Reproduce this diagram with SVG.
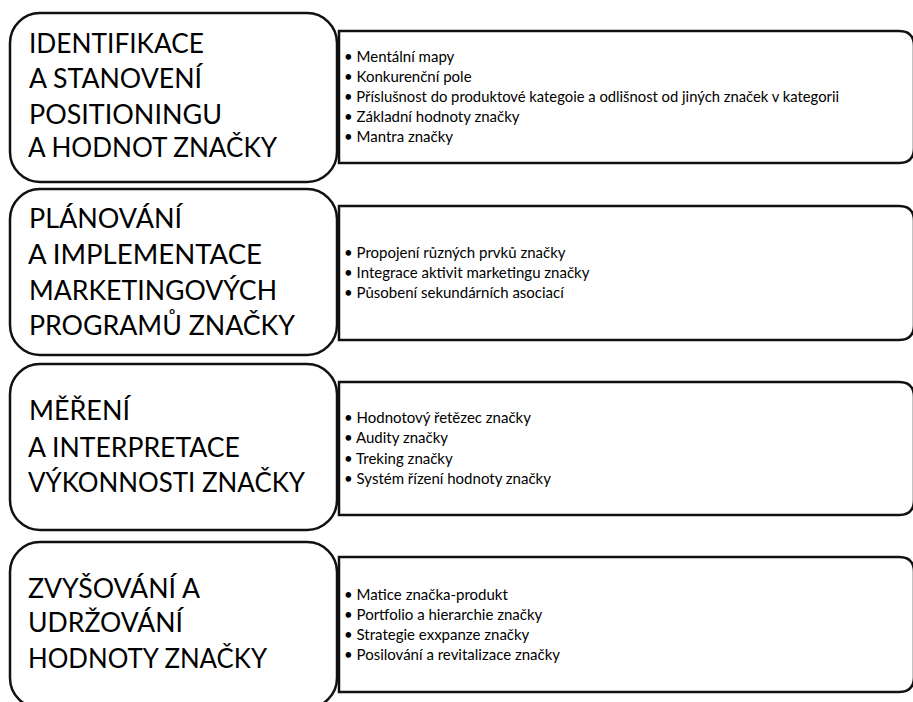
<svg xmlns="http://www.w3.org/2000/svg" width="913" height="702" viewBox="0 0 913 702">
  <style>
    .stage { fill: #ffffff; stroke: #111111; stroke-width: 2.5; }
    .detail { fill: #ffffff; stroke: #111111; stroke-width: 2.5; }
    .title { font-family: Lato, "Liberation Sans", sans-serif; font-size: 27px; font-weight: 400; fill: #000000; }
    .item { font-family: Lato, "Liberation Sans", sans-serif; font-size: 15px; fill: #000000; }
  </style>
  <rect width="913" height="702" fill="#ffffff"/>

  <!-- Stage 1: identification and positioning -->
  <g id="detail-1">
    <path class="detail" d="M339,31 H899 Q914,31 914,46 V148 Q914,163 899,163 H339 Z"/>
    <text class="item" x="344" y="62">• Mentální mapy</text>
    <text class="item" x="344" y="82">• Konkurenční pole</text>
    <text class="item" x="344" y="102" textLength="495" lengthAdjust="spacingAndGlyphs">• Příslušnost do produktové kategoie a odlišnost od jiných značek v kategorii</text>
    <text class="item" x="344" y="122">• Základní hodnoty značky</text>
    <text class="item" x="344" y="142">• Mantra značky</text>
  </g>
  <g id="stage-1">
    <rect class="stage" x="10" y="13" width="327" height="169" rx="30" ry="30"/>
    <text class="title" x="29" y="53" textLength="175" lengthAdjust="spacingAndGlyphs">IDENTIFIKACE</text>
    <text class="title" x="29" y="88" textLength="173" lengthAdjust="spacingAndGlyphs">A STANOVENÍ</text>
    <text class="title" x="29" y="124" textLength="193" lengthAdjust="spacingAndGlyphs">POSITIONINGU</text>
    <text class="title" x="28" y="157" textLength="249" lengthAdjust="spacingAndGlyphs">A HODNOT ZNAČKY</text>
  </g>

  <!-- Stage 2: marketing programmes -->
  <g id="detail-2">
    <path class="detail" d="M339,206 H899 Q914,206 914,221 V325 Q914,340 899,340 H339 Z"/>
    <text class="item" x="344" y="258">• Propojení různých prvků značky</text>
    <text class="item" x="344" y="278">• Integrace aktivit marketingu značky</text>
    <text class="item" x="344" y="298">• Působení sekundárních asociací</text>
  </g>
  <g id="stage-2">
    <rect class="stage" x="10" y="189" width="327" height="166" rx="30" ry="30"/>
    <text class="title" x="29" y="228" textLength="153" lengthAdjust="spacingAndGlyphs">PLÁNOVÁNÍ</text>
    <text class="title" x="28" y="264" textLength="234" lengthAdjust="spacingAndGlyphs">A IMPLEMENTACE</text>
    <text class="title" x="29" y="300" textLength="248" lengthAdjust="spacingAndGlyphs">MARKETINGOVÝCH</text>
    <text class="title" x="29" y="335" textLength="266" lengthAdjust="spacingAndGlyphs">PROGRAMŮ ZNAČKY</text>
  </g>

  <!-- Stage 3: measurement -->
  <g id="detail-3">
    <path class="detail" d="M339,382 H899 Q914,382 914,397 V500 Q914,515 899,515 H339 Z"/>
    <text class="item" x="344" y="423">• Hodnotový řetězec značky</text>
    <text class="item" x="344" y="443">• Audity značky</text>
    <text class="item" x="344" y="464">• Treking značky</text>
    <text class="item" x="344" y="484">• Systém řízení hodnoty značky</text>
  </g>
  <g id="stage-3">
    <rect class="stage" x="10" y="364" width="327" height="166" rx="30" ry="30"/>
    <text class="title" x="29" y="420" textLength="101" lengthAdjust="spacingAndGlyphs">MĚŘENÍ</text>
    <text class="title" x="28" y="457" textLength="212" lengthAdjust="spacingAndGlyphs">A INTERPRETACE</text>
    <text class="title" x="28" y="492" textLength="277" lengthAdjust="spacingAndGlyphs">VÝKONNOSTI ZNAČKY</text>
  </g>

  <!-- Stage 4: growth and maintenance -->
  <g id="detail-4">
    <path class="detail" d="M339,557 H899 Q914,557 914,572 V677 Q914,692 899,692 H339 Z"/>
    <text class="item" x="344" y="600">• Matice značka-produkt</text>
    <text class="item" x="344" y="620">• Portfolio a hierarchie značky</text>
    <text class="item" x="344" y="640">• Strategie exxpanze značky</text>
    <text class="item" x="344" y="660">• Posilování a revitalizace značky</text>
  </g>
  <g id="stage-4">
    <rect class="stage" x="10" y="542" width="327" height="166" rx="30" ry="30"/>
    <text class="title" x="28" y="598" textLength="172" lengthAdjust="spacingAndGlyphs">ZVYŠOVÁNÍ A</text>
    <text class="title" x="28" y="632" textLength="155" lengthAdjust="spacingAndGlyphs">UDRŽOVÁNÍ</text>
    <text class="title" x="28" y="668" textLength="239" lengthAdjust="spacingAndGlyphs">HODNOTY ZNAČKY</text>
  </g>

  <g id="connectors"></g>
</svg>
